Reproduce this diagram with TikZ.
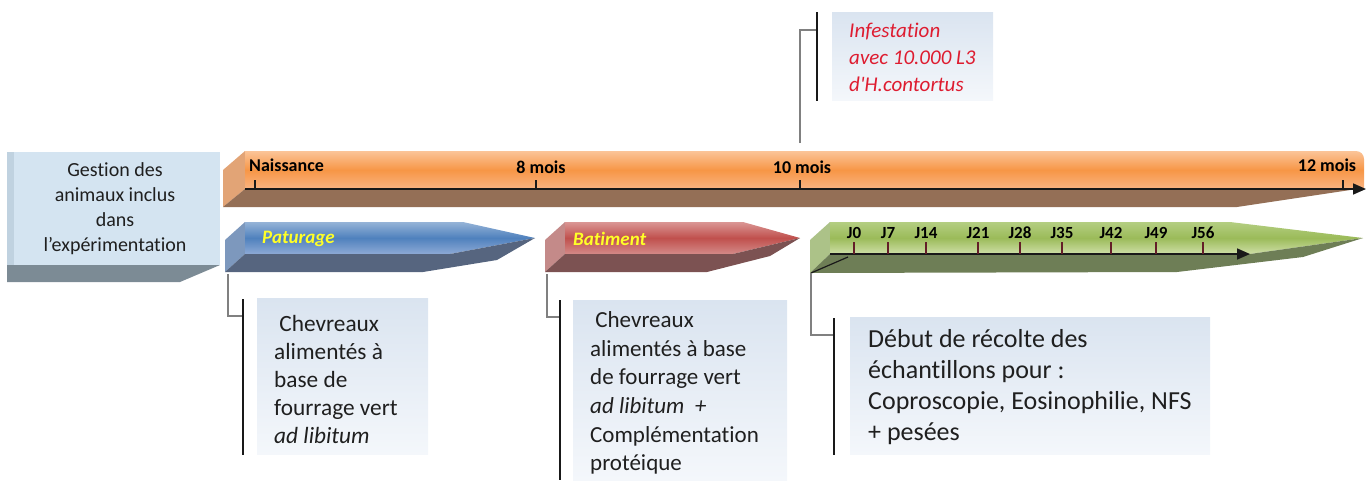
\documentclass[tikz,border=0pt]{standalone}
\usepackage{fontspec}
\setmainfont{Carlito}[Ligatures={NoCommon}]
\usetikzlibrary{arrows.meta}
\definecolor{cbtop}{RGB}{218,228,240}
\definecolor{cbbot}{RGB}{244,247,251}
\definecolor{conngray}{RGB}{128,128,128}
\definecolor{infred}{RGB}{222,28,48}
\definecolor{tagyellow}{RGB}{255,255,40}
\definecolor{gfront}{RGB}{212,228,241}
\definecolor{gleft}{RGB}{192,210,224}
\definecolor{gbottom}{RGB}{124,139,149}
\definecolor{otop}{RGB}{251,196,152}
\definecolor{omid}{RGB}{247,150,70}
\definecolor{obot}{RGB}{250,180,130}
\definecolor{oleft}{RGB}{226,164,118}
\definecolor{obrown}{RGB}{148,111,86}
\definecolor{btop}{RGB}{149,179,215}
\definecolor{bmid}{RGB}{79,129,189}
\definecolor{bbot}{RGB}{142,170,214}
\definecolor{bleft}{RGB}{125,152,189}
\definecolor{bdark}{RGB}{86,101,127}
\definecolor{rtop}{RGB}{218,150,148}
\definecolor{rmid}{RGB}{192,80,77}
\definecolor{rbot}{RGB}{212,138,136}
\definecolor{rleft}{RGB}{196,138,137}
\definecolor{rdark}{RGB}{124,82,82}
\definecolor{gtop}{RGB}{180,206,130}
\definecolor{gmid}{RGB}{155,187,89}
\definecolor{gbot}{RGB}{207,223,168}
\definecolor{gleftf}{RGB}{172,194,136}
\definecolor{gdark}{RGB}{110,126,86}
\definecolor{jtickc}{RGB}{100,30,40}
\begin{document}
\begin{tikzpicture}[x=1pt,y=-1pt,
  axlbl/.style={font=\fontsize{18}{20}\selectfont\bfseries, inner sep=0},
  jlbl/.style={font=\fontsize{17}{19}\selectfont\bfseries, inner sep=0},
  tag/.style={font=\fontsize{19}{21}\selectfont\bfseries\itshape, text=tagyellow, inner sep=0, anchor=west},
  callbox/.style={top color=cbtop, bottom color=cbbot, draw=none},
  graylink/.style={draw=conngray, line width=2pt},
  blackbar/.style={draw=black!90, line width=1.6pt},
  calltext/.style={align=left, anchor=west, inner sep=0, text=black!88},
  axisline/.style={draw=black!90, line width=1.6pt, -{Triangle[length=13pt,width=11pt]}},
  tickmark/.style={draw=black!90, line width=1.2pt},
  jtick/.style={draw=jtickc, line width=1.4pt},
]
\useasboundingbox (0,0) rectangle (1370,480);

% ---------- left box ----------
\fill[gbottom] (7,265) -- (220,265) -- (180,282) -- (7,282) -- cycle;
\fill[gfront] (7,152) rectangle (220,265);
\fill[gleft] (7,152) rectangle (14,265);
\node[align=center, font=\fontsize{20}{25}\selectfont, inner sep=0, text=black!88] (gestion) at (115,209)
  {Gestion des\\animaux inclus\\dans\\l’expérimentation};

% ---------- orange bar ----------
\fill[oleft] (245,151) -- (223,170) -- (223,207) -- (245,189) -- cycle;
\fill[obrown] (245,189) -- (1357,189) -- (1237,207) -- (223,207) -- cycle;
\shade[top color=otop, bottom color=obot, middle color=omid]
  (245,151) -- (1356,151) arc[start angle=90, end angle=0, radius=8pt] -- (1364,189) -- (245,189) -- cycle;
\coordinate (axS) at (245,189);
\coordinate (axE) at (1366,189);
\draw[axisline] (axS) -- (axE);
\foreach \x in {255,536,800,1343} \draw[tickmark] (\x,180) -- (\x,189);
\node[axlbl, anchor=west] (naiss) at (249,165) {Naissance};
\node[axlbl] (m8) at (541,167) {8 mois};
\node[axlbl] (m10) at (802,167) {10 mois};
\node[axlbl] (m12) at (1327,165) {12 mois};

% ---------- blue arrow ----------
\fill[bleft] (245,222) -- (225,240) -- (225,272) -- (245,254) -- cycle;
\shade[top color=btop, bottom color=bbot, middle color=bmid]
  (245,222) -- (463,222) -- (535,238) -- (450,254) -- (245,254) -- cycle;
\fill[bdark] (245,254) -- (450,254) -- (535,238) -- (497,260) -- (423,272) -- (225,272) -- cycle;
\node[tag] (patur) at (262,239) {Paturage};

% ---------- red arrow ----------
\fill[rleft] (565,222) -- (545,240) -- (545,272) -- (565,254) -- cycle;
\shade[top color=rtop, bottom color=rbot, middle color=rmid]
  (565,222) -- (743,222) -- (800,238) -- (733,254) -- (565,254) -- cycle;
\fill[rdark] (565,254) -- (733,254) -- (800,238) -- (770,256) -- (707,272) -- (545,272) -- cycle;
\node[tag] (batim) at (573,239) {Batiment};

% ---------- green arrow ----------
\fill[gleftf] (830,222) -- (810,240) -- (810,273) -- (830,254) -- cycle;
\shade[top color=gtop, bottom color=gbot, middle color=gmid]
  (830,222) -- (1230,222) -- (1363,238) -- (1250,254) -- (830,254) -- cycle;
\fill[gdark] (830,254) -- (1250,254) -- (1363,238) -- (1303,257) -- (1177,272) -- (810,273) -- cycle;
\coordinate (gS) at (830,254);
\coordinate (gE) at (1250,254);
\draw[axisline] (gS) -- (gE);
\foreach \x/\t in {854/J0,888/J7,926/J14,978/J21,1020/J28,1062/J35,1111/J42,1156/J49,1203/J56}{
  \draw[jtick] (\x,242) -- (\x,254);
  \node[jlbl] (lbl\t) at (\x,233) {\t};
}

% ---------- infestation callout ----------
\fill[callbox] (832,12) rectangle (993,100);
\node[calltext, font=\fontsize{21}{27}\selectfont\itshape, text=infred] (infest) at (849,57)
  {Infestation\\avec 10.000 L3\\d\textquotesingle H.contortus};
\coordinate (i0) at (800,143);
\coordinate (i1) at (800,30);
\coordinate (i2) at (817,30);
\coordinate (ib1) at (817,12);
\coordinate (ib2) at (817,101);
\draw[graylink] (i0) -- (i1) -- (i2);
\draw[blackbar] (ib1) -- (ib2);

% ---------- callout 1 ----------
\fill[callbox] (257,298) rectangle (428,454);
\node[calltext, font=\fontsize{23.3}{28}\selectfont] (call1) at (274,379)
  {~Chevreaux\\alimentés à\\base de\\fourrage vert\\\textit{ad libitum}};
\coordinate (a0) at (228,274);
\coordinate (a1) at (228,316);
\coordinate (a2) at (243,316);
\coordinate (ab1) at (243,299);
\coordinate (ab2) at (243,455);
\draw[graylink] (a0) -- (a1) -- (a2);
\draw[blackbar] (ab1) -- (ab2);

% ---------- callout 2 ----------
\fill[callbox] (573,300) rectangle (787,480);
\node[calltext, font=\fontsize{23}{28.6}\selectfont] (call2) at (590,393)
  {~Chevreaux\\alimentés à base\\de fourrage vert\\\textit{ad libitum~~+}\\Complémentation\\protéique};
\coordinate (b0) at (547,274);
\coordinate (b1) at (547,317);
\coordinate (b2) at (560,317);
\coordinate (bb1) at (560,300);
\coordinate (bb2) at (560,480);
\draw[graylink] (b0) -- (b1) -- (b2);
\draw[blackbar] (bb1) -- (bb2);

% ---------- callout 3 ----------
\fill[callbox] (850,317) rectangle (1210,454);
\node[calltext, font=\fontsize{26}{31}\selectfont] (call3) at (868,387)
  {Début de récolte des\\échantillons pour :\\Coproscopie, Eosinophilie, NFS\\+ pesées};
\coordinate (c0) at (848,257);
\coordinate (c1) at (811,273);
\coordinate (c2) at (811,335);
\coordinate (c3) at (834,335);
\coordinate (cb1) at (834,318);
\coordinate (cb2) at (834,455);
\draw[black!90, line width=1.2pt] (c0) -- (c1);
\draw[graylink] (c1) -- (c2) -- (c3);
\draw[blackbar] (cb1) -- (cb2);
\end{tikzpicture}
\end{document}
